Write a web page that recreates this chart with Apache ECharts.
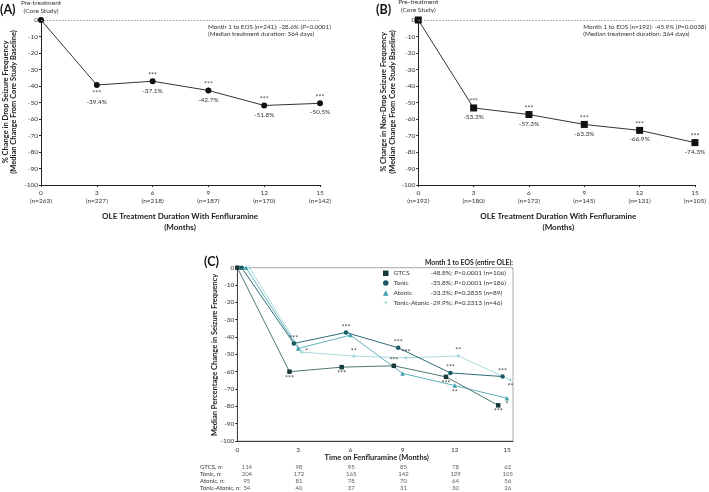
<!DOCTYPE html>
<html><head><meta charset="utf-8">
<script src="https://cdn.jsdelivr.net/npm/echarts@6/dist/echarts.min.js"></script>
<style>html,body{margin:0;padding:0;background:#fff}#c{width:709px;height:492px}</style>
</head><body><div id="c"></div>
<script>
// ---------- data ----------
const months = [0, 3, 6, 9, 12, 15];
const dropVals = [0, -39.4, -37.1, -42.7, -51.8, -50.5];
const dropN = [263, 227, 218, 187, 170, 142];
const dropStars = ['', '***', '***', '***', '***', '***'];
const nonDropVals = [0, -53.3, -57.3, -63.3, -66.9, -74.3];
const nonDropN = [192, 180, 172, 145, 131, 105];
const nonDropStars = ['', '***', '***', '***', '***', '***'];

const typeNames = ['GTCS', 'Tonic', 'Atonic', 'Tonic-Atonic'];
const gtcsVals = [0, -60.0, -57.4, -56.6, -63.0, -79.4];
const tonicVals = [0, -43.7, -37.4, -46.2, -60.7, -62.8];
const atonicVals = [0, -46.6, -38.9, -61.0, -68.0, -75.3];
const tonicAtonicVals = [0, -48.7, -51.0, -52.0, -50.9, -64.7];
const gtcsStars = ['', '***', '***', '***', '***', '***'];
const tonicStars = ['', '***', '***', '***', '***', '***'];
const atonicStars = ['', '', '', '', '**', '*'];
const tonicAtonicStars = ['', '*', '**', '***', '**', '**'];
const gtcsN = [114, 98, 95, 85, 78, 62];
const tonicN = [204, 172, 165, 142, 129, 105];
const atonicN = [95, 81, 78, 70, 64, 56];
const tonicAtonicN = [54, 40, 37, 31, 30, 26];
const tableRows = ['GTCS, n:', 'Tonic, n:', 'Atonic, n:', 'Tonic-Atonic, n:'];
const eosDiff = ['-48.8%; ', '-35.8%; ', '-33.3%; ', '-29.9%; '];
const eosP = ['<0.0001 (n=106)', '<0.0001 (n=186)', '=0.2835 (n=89)', '=0.2313 (n=46)'];
const yTickMin = -100, yTickMax = 0, yTickStep = 10;

// ---------- styling ----------
const FONT = 'Lato';
const TXT = '#333';
const cVals = [gtcsVals, tonicVals, atonicVals, tonicAtonicVals];
const cStars = [gtcsStars, tonicStars, atonicStars, tonicAtonicStars];
const cN = [gtcsN, tonicN, atonicN, tonicAtonicN];
const cColors = ['#17393a', '#1a5a63', '#3fa0ad', '#9bd3d8'];
const cLine = ['#4f7676', '#2f6c76', '#5fb1bb', '#a9dade'];
const starPath = 'path://M5,0 L6,4 L10,5 L6,6 L5,10 L4,6 L0,5 L4,4 Z';
const cSymbols = ['rect', 'circle', 'triangle', starPath];
const cOffsets = [0, 0.25, 0.5, 0.7];
const cStarPos = [
  ['top', 'bottom', 'bottom', 'top', 'bottom', 'bottom'],
  ['top', 'top', 'top', 'top', 'top', 'top'],
  ['top', 'top', 'top', 'top', 'bottom', 'bottom'],
  ['top', 'right', 'top', 'top', 'top', 'bottom']
];
const dropStarPos = ['top', 'bottom', 'top', 'top', 'top', 'top'];
const dropValDist = [0, 10, 3, 3, 3, 2];

const chart = echarts.init(document.getElementById('c'), null, {renderer: 'canvas'});

function valueAxisY(gridIndex) {
  return {
    type: 'value', gridIndex, min: yTickMin, max: yTickMax, interval: yTickStep,
    splitLine: {show: false},
    axisLine: {show: true, lineStyle: {color: '#222', width: 1}},
    axisTick: {show: true, length: 2, lineStyle: {color: '#222'}},
    axisLabel: {fontFamily: FONT, fontSize: 6.5, color: TXT, margin: 3}
  };
}
function nAxisX(gridIndex, nArr) {
  return {
    type: 'value', gridIndex, min: 0, max: 15, interval: 3,
    splitLine: {show: false},
    axisLine: {show: true, onZero: false, lineStyle: {color: '#222', width: 1}},
    axisTick: {show: true, length: 2, lineStyle: {color: '#222'}},
    axisLabel: {fontFamily: FONT, fontSize: 6.5, color: TXT, margin: 4, lineHeight: 7.8,
      formatter: v => v + '\n(n=' + nArr[months.indexOf(v)] + ')'}
  };
}
function panelSeries(xi, vals, stars, symbol, size, starPos, valDist) {
  const lineData = months.map((m, i) => {
    const d = {value: [m, vals[i]]};
    if (i === 0) {
      d.label = {show: true, position: 'top', distance: 2, formatter: 'Pre-treatment\n(Core Study)',
        fontFamily: FONT, fontSize: 6.5, color: TXT, lineHeight: 8.3};
    } else {
      d.label = {show: true, position: 'bottom', distance: valDist[i],
        formatter: vals[i].toFixed(1) + '%', fontFamily: FONT, fontSize: 6.5, color: TXT};
    }
    return d;
  });
  const starData = months.map((m, i) => ({
    value: [m, vals[i]],
    label: {show: stars[i] !== '', position: starPos[i], distance: starPos[i] === 'top' ? -1 : 2,
      formatter: stars[i], fontFamily: FONT, fontSize: 7, color: '#222'}
  }));
  return [
    {type: 'line', xAxisIndex: xi, yAxisIndex: xi, data: lineData, symbol, symbolSize: size,
      showAllSymbol: true, lineStyle: {color: '#333', width: 1}, itemStyle: {color: '#111'},
      z: 3,
      markLine: {silent: true, symbol: 'none', label: {show: false},
        lineStyle: {type: [1.5, 1.5], color: '#999', width: 1}, data: [{yAxis: 0}]}},
    {type: 'scatter', xAxisIndex: xi, yAxisIndex: xi, data: starData, symbolSize: size,
      itemStyle: {color: 'rgba(0,0,0,0)'}, silent: true, z: 4}
  ];
}

const series = [];
series.push(...panelSeries(0, dropVals, dropStars, 'circle', 6, dropStarPos, dropValDist));
series.push(...panelSeries(1, nonDropVals, nonDropStars, 'rect', 7,
  ['top', 'top', 'top', 'top', 'top', 'top'], [0, 2, 2, 2, 2, 2]));

cVals.forEach((vals, k) => {
  series.push({
    type: 'line', name: typeNames[k], xAxisIndex: 2, yAxisIndex: 2,
    data: months.map((m, i) => [m + cOffsets[k], vals[i]]),
    symbol: cSymbols[k], symbolSize: k === 3 ? 6 : 4.5, showAllSymbol: true,
    lineStyle: {color: cLine[k], width: 1}, itemStyle: {color: cColors[k]}, z: 3 + (4 - k)
  });
  series.push({
    type: 'scatter', xAxisIndex: 2, yAxisIndex: 2, silent: true, symbolSize: 4.5,
    itemStyle: {color: 'rgba(0,0,0,0)'}, z: 10,
    data: months.map((m, i) => ({
      value: [m + cOffsets[k], vals[i]],
      label: {show: cStars[k][i] !== '', position: cStarPos[k][i],
        distance: cStarPos[k][i] === 'top' ? -1 : 1,
        formatter: cStars[k][i], fontFamily: FONT, fontSize: 7, color: '#222'}
    }))
  });
});
// table of n below panel C
cN.forEach((arr, k) => {
  series.push({
    type: 'scatter', xAxisIndex: 3, yAxisIndex: 3, silent: true, symbolSize: 1,
    itemStyle: {color: 'rgba(0,0,0,0)'},
    data: months.map((m, i) => ({value: [m + 0.55, k],
      label: {show: true, position: 'inside', formatter: String(arr[i]),
        fontFamily: FONT, fontSize: 6, color: TXT}}))
  });
});

const annot = (x, y, n, diff, p) => ({
  type: 'text', left: x, top: y, silent: true,
  style: {
    text: '{s|Month 1 to EOS (n=' + n + '): ' + diff + ' (}{i|P}{s|' + p + ')}\n{s|(Median treatment duration: 364 days)}',
    rich: {s: {fontFamily: FONT, fontSize: 6.3, fill: TXT, lineHeight: 7.6},
           i: {fontFamily: FONT, fontSize: 6.3, fill: TXT, fontStyle: 'italic', lineHeight: 7.6}}
  }
});

const option = {
  backgroundColor: '#fff',
  animation: false,
  textStyle: {fontFamily: FONT},
  grid: [
    {left: 41, top: 20, width: 279, height: 165},
    {left: 418.3, top: 20, width: 279, height: 165},
    {left: 237.3, top: 267.7, width: 275.7, height: 173.3, show: true, borderColor: '#aaa', borderWidth: 1},
    {left: 237.3, top: 463.9, width: 275.7, height: 27.6}
  ],
  xAxis: [
    nAxisX(0, dropN),
    nAxisX(1, nonDropN),
    {type: 'value', gridIndex: 2, min: 0, max: 15.85,
      splitLine: {show: false},
      axisLine: {show: true, onZero: false, lineStyle: {color: '#444', width: 1}},
      axisTick: {show: false},
      axisLabel: {fontFamily: FONT, fontSize: 6.5, color: TXT, margin: 5,
        customValues: months.map((m, i) => i === 0 ? 0 : m + 0.5),
        formatter: v => String(Math.floor(v))}},
    {type: 'value', gridIndex: 3, min: 0, max: 15.85, show: false}
  ],
  yAxis: [
    valueAxisY(0), valueAxisY(1),
    Object.assign(valueAxisY(2), {axisLine: {show: true, lineStyle: {color: '#444'}}}),
    {type: 'category', gridIndex: 3, data: tableRows, inverse: true,
      axisLine: {show: false}, axisTick: {show: false}, splitLine: {show: false},
      axisLabel: {interval: 0, align: 'left', margin: 37.3, fontFamily: FONT, fontSize: 6, color: TXT}}
  ],
  legend: {
    orient: 'vertical', left: 383, top: 269.8, itemWidth: 5.5, itemHeight: 5.5, itemGap: 2.8,
    padding: 0,
    data: typeNames.map((n, k) => ({name: n, icon: cSymbols[k],
      itemStyle: {color: cColors[k]}})),
    formatter: name => {
      const k = typeNames.indexOf(name);
      return '{n|' + name + '}{s|' + eosDiff[k] + '}{i|P}{s|' + eosP[k] + '}';
    },
    textStyle: {
      fontFamily: FONT, fontSize: 6.5, color: TXT,
      rich: {n: {width: 37, fontFamily: FONT, fontSize: 6.5, color: TXT},
             s: {fontFamily: FONT, fontSize: 6.5, color: TXT},
             i: {fontFamily: FONT, fontSize: 6.5, color: TXT, fontStyle: 'italic'}}
    }
  },
  graphic: [
    {type: 'text', left: 0, top: 3, style: {text: '(A)', fontFamily: FONT, fontSize: 12.5, fontWeight: 'bold', fill: '#111'}},
    {type: 'text', left: 376, top: 3, style: {text: '(B)', fontFamily: FONT, fontSize: 12.5, fontWeight: 'bold', fill: '#111'}},
    {type: 'text', left: 204, top: 255, style: {text: '(C)', fontFamily: FONT, fontSize: 12.5, fontWeight: 'bold', fill: '#111'}},
    annot(208, 23.5, 241, '-28.6%', '<0.0001'),
    annot(583.3, 23.5, 192, '-45.9%', '=0.0038'),
    {type: 'text', x: 180, y: 222, silent: true,
      style: {text: 'OLE Treatment Duration With Fenfluramine\n(Months)', align: 'center', verticalAlign: 'middle',
        fontFamily: FONT, fontSize: 8, fontWeight: 'bold', fill: '#222', lineHeight: 10.6}},
    {type: 'text', x: 558.3, y: 222, silent: true,
      style: {text: 'OLE Treatment Duration With Fenfluramine\n(Months)', align: 'center', verticalAlign: 'middle',
        fontFamily: FONT, fontSize: 8, fontWeight: 'bold', fill: '#222', lineHeight: 10.6}},
    {type: 'text', x: 9.5, y: 102, rotation: Math.PI / 2, silent: true,
      style: {text: '% Change in Drop Seizure Frequency\n(Median Change From Core Study Baseline)', align: 'center', verticalAlign: 'middle',
        fontFamily: FONT, fontSize: 7.5, fontWeight: 'bold', fill: '#222', lineHeight: 8.8}},
    {type: 'text', x: 388.3, y: 102, rotation: Math.PI / 2, silent: true,
      style: {text: '% Change in Non-Drop Seizure Frequency\n(Median Change From Core Study Baseline)', align: 'center', verticalAlign: 'middle',
        fontFamily: FONT, fontSize: 7.5, fontWeight: 'bold', fill: '#222', lineHeight: 8.8}},
    {type: 'text', x: 215, y: 355, rotation: Math.PI / 2, silent: true,
      style: {text: 'Median Percentage Change in Seizure Frequency', align: 'center', verticalAlign: 'middle',
        fontFamily: FONT, fontSize: 7.5, fontWeight: 'bold', fill: '#222'}},
    {type: 'text', x: 376.7, y: 458, silent: true,
      style: {text: 'Time on Fenfluramine (Months)', align: 'center', verticalAlign: 'middle',
        fontFamily: FONT, fontSize: 7.5, fontWeight: 'bold', fill: '#222'}},
    {type: 'text', x: 513, y: 263, silent: true,
      style: {text: 'Month 1 to EOS (entire OLE):', align: 'right', verticalAlign: 'middle',
        fontFamily: FONT, fontSize: 6.8, fontWeight: 'bold', fill: '#222'}}
  ],
  series
};
chart.setOption(option);
</script></body></html>
